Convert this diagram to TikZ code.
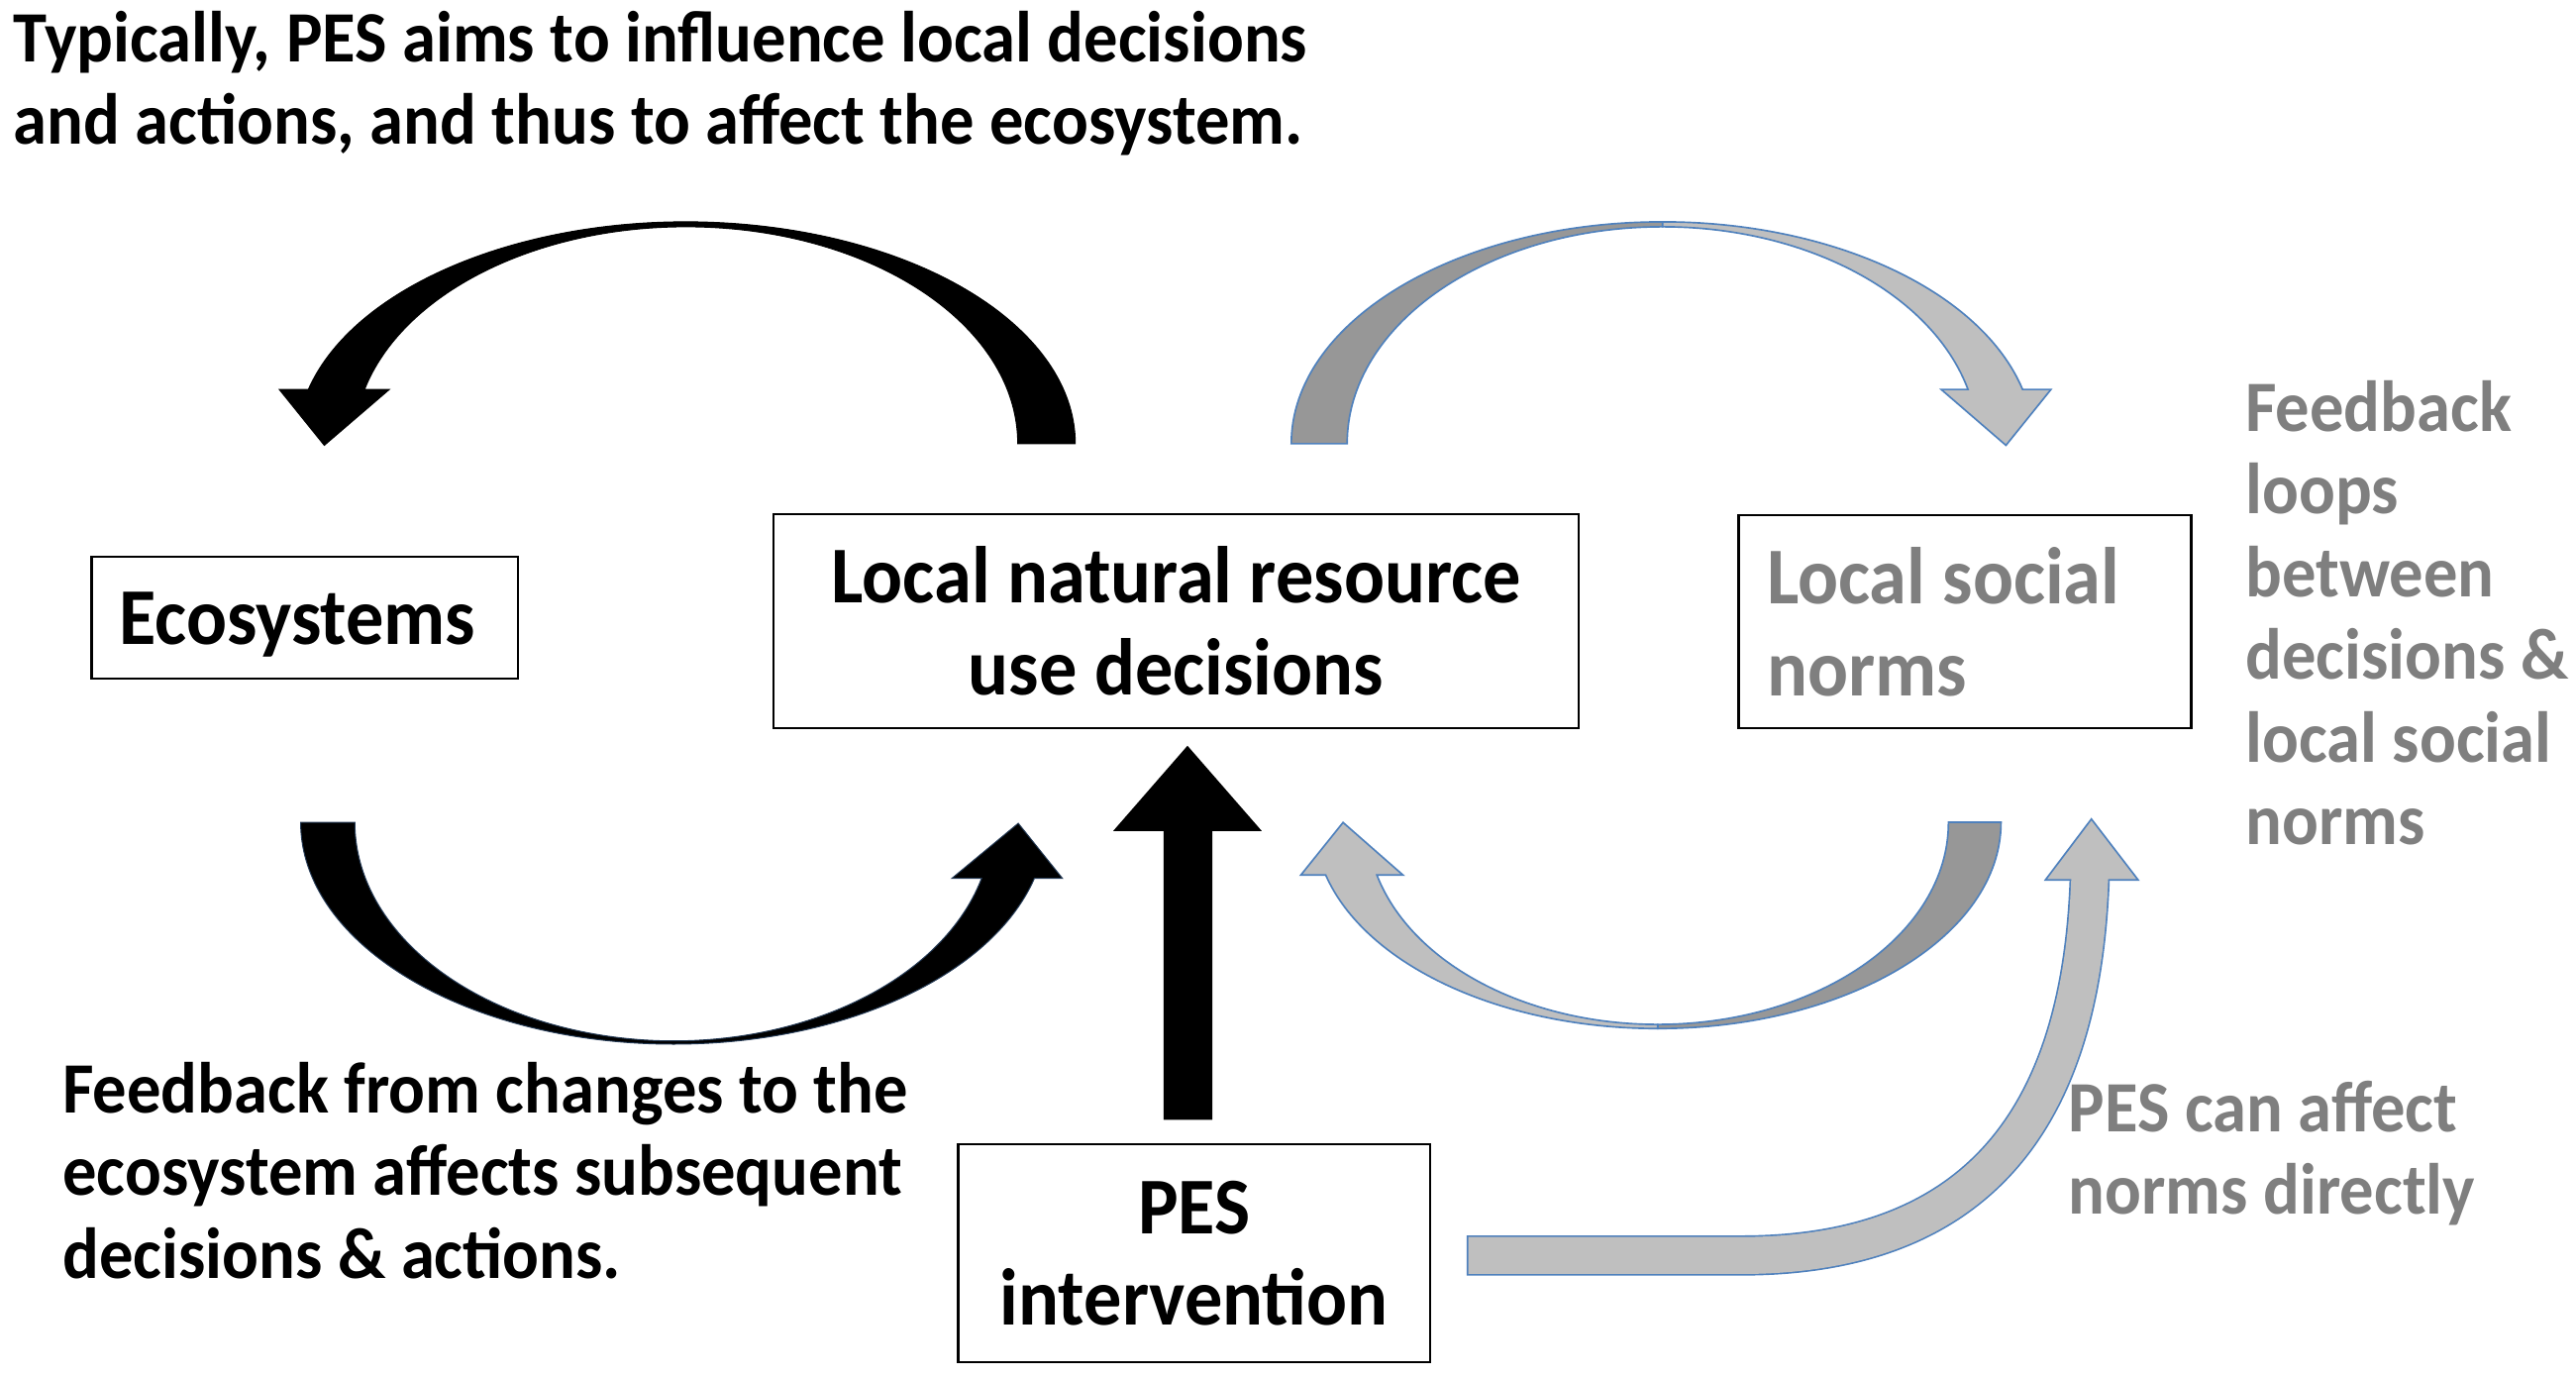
\documentclass[tikz,border=0pt]{standalone}
\usepackage{fontspec}
\setmainfont{Carlito}[FakeStretch=0.94]
\usetikzlibrary{calc}
\definecolor{txtgray}{HTML}{7F7F7F}
\definecolor{arrlight}{HTML}{BFBFBF}
\definecolor{arrdark}{HTML}{979797}
\definecolor{arrline}{HTML}{4F81BD}
\begin{document}
\begin{tikzpicture}[x=1pt,y=1pt,
  boxnode/.style={draw=black, line width=1.4pt, inner sep=0pt, fill=white},
  bigtext/.style={font=\fontsize{49}{56}\selectfont\bfseries},
  smalltext/.style={font=\fontsize{44}{50.3}\selectfont\bfseries},
  grayribbon/.style={draw=arrline, line width=1pt, line join=miter},
  blackribbon/.style={fill=black, draw=black, line width=0.6pt}]
\useasboundingbox (0,0) rectangle (1568,839);

% boxes
\node[boxnode, bigtext, minimum width=259.5pt, minimum height=74pt, text depth=0pt] (eco) at (185.5,463) {\kern-9pt Ecosystems};
\node[boxnode, bigtext, align=center, minimum width=490.3pt, minimum height=130pt] (lnr) at (715.9,461) {Local natural resource\\use decisions};
\node[boxnode, bigtext, text=txtgray, align=flush left, text width=241pt, inner xsep=17.2pt, inner ysep=0pt, minimum height=129.5pt] (lsn) at (1196,460.8) {Local social\\norms};
\node[boxnode, bigtext, align=center, minimum width=287.3pt, minimum height=132.7pt] (pes) at (726.9,76.3) {PES\\intervention};

% texts (base anchor = baseline of the last line)
\node[smalltext, anchor=base west, align=left, inner sep=0pt] (title) at (8,751) {Typically, PES aims to influence local decisions\\and actions, and thus to affect the ecosystem.};
\node[smalltext, anchor=base west, align=left, inner sep=0pt] (fbnote) at (38,61.3) {Feedback from changes to the\\ecosystem affects subsequent\\decisions \& actions.};
\node[smalltext, text=txtgray, anchor=base west, align=left, inner sep=0pt] (loopnote) at (1366.7,325) {Feedback\\loops\\between\\decisions \&\\local social\\norms};
\node[smalltext, text=txtgray, anchor=base west, align=left, inner sep=0pt, font=\fontsize{44}{49.5}\selectfont\bfseries] (pesnote) at (1259,100.5) {PES can affect\\norms directly};

% top-left black ribbon arrow (decisions -> ecosystems)
\filldraw[blackribbon] (654.5,569) -- (619.5,569)
  arc[start angle=0, end angle=165.52, x radius=202, y radius=132]
  -- (237,602) -- (197.4,568) -- (170,602) -- (187.7,602)
  arc[start angle=165.85, end angle=0, x radius=237, y radius=135] -- cycle;

% top-right gray ribbon arrow (decisions -> norms)
\filldraw[fill=arrdark, grayribbon] (786,569)
  arc[start angle=180, end angle=90, x radius=226, y radius=135] -- (1012,701)
  arc[start angle=90, end angle=180, x radius=192, y radius=132] -- cycle;
\filldraw[fill=arrlight, grayribbon] (1012,704)
  arc[start angle=90, end angle=14.15, x radius=226, y radius=135]
  -- (1248.4,602) -- (1221,568) -- (1181.6,602) -- (1197.9,602)
  arc[start angle=14.48, end angle=90, x radius=192, y radius=132] -- cycle;

% bottom-left black ribbon arrow (ecosystems -> decisions)
\filldraw[blackribbon, draw=arrline!45!black] (183,338.6)
  arc[start angle=180, end angle=345.37, x radius=227, y radius=135]
  -- (646.7,304.5) -- (619.8,338) -- (579.4,304.5) -- (597.5,304.5)
  arc[start angle=345.14, end angle=180, x radius=194, y radius=133] -- cycle;

% bottom-right gray ribbon arrow (norms -> decisions)
\filldraw[fill=arrdark, grayribbon] (1218,338.6)
  arc[start angle=360, end angle=270, x radius=209, y radius=125.5] -- (1009,215.6)
  arc[start angle=270, end angle=360, x radius=177, y radius=123] -- cycle;
\filldraw[fill=arrlight, grayribbon] (1009,213.1)
  arc[start angle=270, end angle=194.82, x radius=209, y radius=125.5]
  -- (791.8,306.5) -- (817.5,338.5) -- (854,306.5) -- (838.1,306.5)
  arc[start angle=195.13, end angle=270, x radius=177, y radius=123] -- cycle;

% black straight arrow PES -> decisions
\coordinate (vb) at ($(pes.north)+(-3.8,14.2)$);
\coordinate (vt) at ($(lnr.south)+(6.9,-10.1)$);
\fill[black] ($(vb)+(-14.8,0)$) -- ($(vb)+(14.8,0)$) -- ($(vb)+(14.8,175.8)$)
  -- ($(vb)+(44.9,175.8)$) -- (vt) -- ($(vb)+(-45.5,175.8)$) -- ($(vb)+(-14.8,175.8)$) -- cycle;

% gray arrow PES -> norms
\coordinate (gs) at ($(pes.east)+(21.5,-1.3)$);
\draw[arrline, line width=24.5pt] (gs) -- (1060,75) .. controls (1230,75) and (1268,193) .. (1272,305);
\draw[arrlight, line width=22.5pt] ($(gs)+(1,0)$) -- (1060,75) .. controls (1230,75) and (1268,193) .. (1272,305);
\fill[arrlight] (1245,303.5) -- (1273,340.6) -- (1301.5,303.5) -- cycle;
\draw[arrline, line width=1pt, line join=miter] (1260.8,303.5) -- (1245,303.5) -- (1273,340.6) -- (1301.5,303.5) -- (1283.2,303.5);
\end{tikzpicture}
\end{document}
